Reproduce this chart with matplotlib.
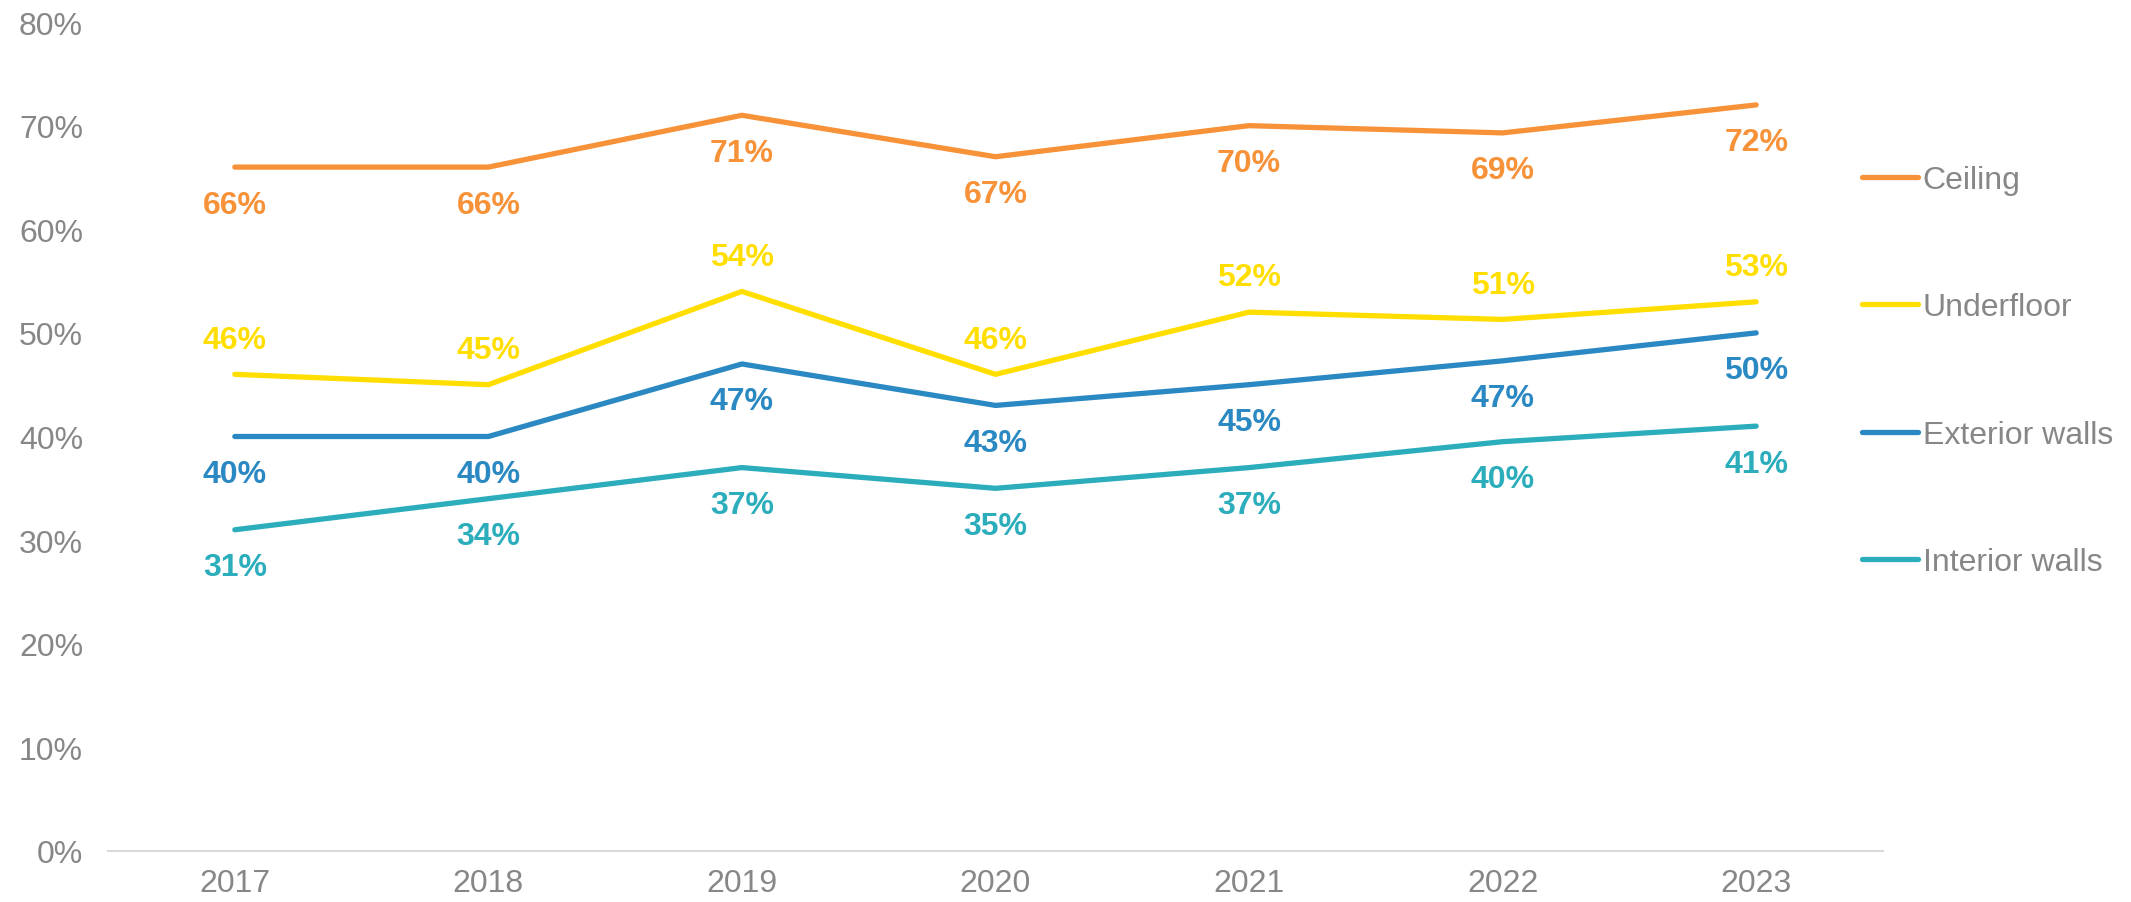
import matplotlib.pyplot as plt
from matplotlib.ticker import PercentFormatter

plt.rcParams['font.family'] = ['Liberation Sans', 'DejaVu Sans']

years = ['2017', '2018', '2019', '2020', '2021', '2022', '2023']
ceiling = [66, 66, 71, 67, 70, 69.3, 72]
underfloor = [46, 45, 54, 46, 52, 51.3, 53]
exterior = [40, 40, 47, 43, 45, 47.3, 50]
interior = [31, 34, 37, 35, 37, 39.5, 41]

series = [
    ('Ceiling', ceiling, '#F79239', -27),
    ('Underfloor', underfloor, '#FFDE00', 25),
    ('Exterior walls', exterior, '#2A88C2', -27),
    ('Interior walls', interior, '#2BADBC', -27),
]

fig = plt.figure(figsize=(21.31, 9.03), dpi=100)
ax = fig.add_axes([0.0507, 0.0565, 0.8329, 0.918])

x = list(range(len(years)))
for name, vals, col, off in series:
    ax.plot(x, vals, color=col, lw=3.8, solid_capstyle='round', label=name)
    for xi, v in zip(x, vals):
        ax.annotate(f'{round(v):.0f}%', (xi, v), xytext=(0, off), textcoords='offset points',
                    ha='center', va='center', color=col, fontsize=23, fontweight='bold')

ax.set_xlim(-0.5, 6.5)
ax.set_ylim(0, 80)
ax.set_yticks(range(0, 81, 10))
ax.yaxis.set_major_formatter(PercentFormatter(decimals=0))
ax.set_xticks(x)
ax.set_xticklabels(years)
ax.tick_params(axis='both', length=0, labelsize=23, labelcolor='#878787')
ax.tick_params(axis='y', pad=18)
ax.tick_params(axis='x', pad=12)
for s in ['top', 'right', 'left']:
    ax.spines[s].set_visible(False)
ax.spines['bottom'].set_color('#D9D9D9')
ax.spines['bottom'].set_linewidth(1.5)

fig.legend(loc='center left', bbox_to_anchor=(0.874, 0.588), frameon=False,
           fontsize=23, labelcolor='#878787', handlelength=1.74, handletextpad=0.14,
           labelspacing=3.05, borderpad=0, borderaxespad=0)

fig.savefig('out.png', dpi=100)
